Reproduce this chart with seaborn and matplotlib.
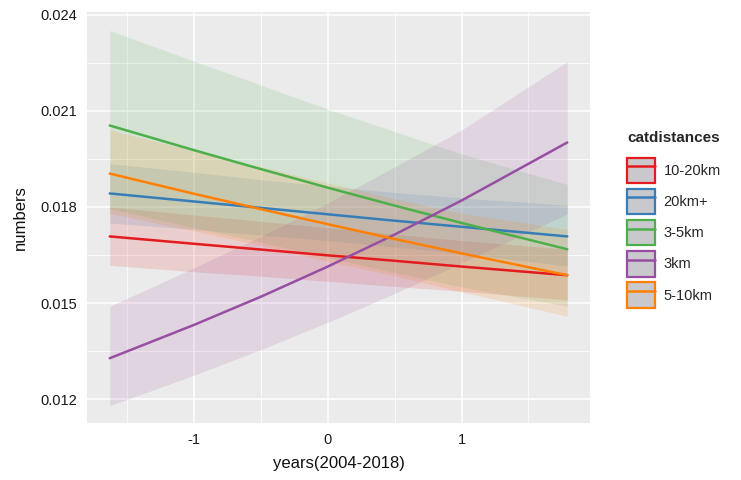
import numpy as np
import pandas as pd
import matplotlib
matplotlib.use("Agg")
import matplotlib.pyplot as plt
import seaborn as sns
from matplotlib.patches import Patch
from matplotlib.lines import Line2D
from matplotlib.legend_handler import HandlerTuple
from matplotlib.ticker import MultipleLocator

# values
categories = ["10-20km", "20km+", "3-5km", "3km", "5-10km"]
colors = ["#E41A1C", "#377EB8", "#4DAF4A", "#984EA3", "#FF7F00"]
years = [-1.63, -1.0, -0.5, 0.0, 0.5, 1.0, 1.79]

fit = {
    "10-20km": [0.01708, 0.01685, 0.01667, 0.01649, 0.01632, 0.01614, 0.01587],
    "20km+":   [0.01842, 0.01817, 0.01797, 0.01777, 0.01757, 0.01738, 0.01708],
    "3-5km":   [0.02054, 0.01977, 0.01918, 0.01860, 0.01804, 0.01750, 0.01668],
    "3km":     [0.01328, 0.01432, 0.01520, 0.01614, 0.01714, 0.01820, 0.02001],
    "5-10km":  [0.01904, 0.01841, 0.01793, 0.01746, 0.01700, 0.01655, 0.01587],
}
lower = {
    "10-20km": [0.01618, 0.01598, 0.01584, 0.01568, 0.01552, 0.01537, 0.01510],
    "20km+":   [0.01750, 0.01730, 0.01712, 0.01695, 0.01675, 0.01655, 0.01615],
    "3-5km":   [0.01795, 0.01735, 0.01690, 0.01642, 0.01595, 0.01550, 0.01490],
    "3km":     [0.01180, 0.01275, 0.01355, 0.01440, 0.01530, 0.01625, 0.01778],
    "5-10km":  [0.01780, 0.01725, 0.01680, 0.01630, 0.01585, 0.01535, 0.01459],
}
upper = {
    "10-20km": [0.01800, 0.01775, 0.01755, 0.01735, 0.01715, 0.01695, 0.01668],
    "20km+":   [0.01935, 0.01908, 0.01885, 0.01865, 0.01845, 0.01828, 0.01805],
    "3-5km":   [0.02350, 0.02255, 0.02180, 0.02105, 0.02035, 0.01965, 0.01870],
    "3km":     [0.01490, 0.01610, 0.01708, 0.01812, 0.01925, 0.02040, 0.02253],
    "5-10km":  [0.02040, 0.01975, 0.01925, 0.01875, 0.01825, 0.01780, 0.01730],
}

# long table: low / fit / high rows, median gives the line, 100% interval gives the band
rows = []
for cat in categories:
    for i, yr in enumerate(years):
        for v in (lower[cat][i], fit[cat][i], upper[cat][i]):
            rows.append({"years": yr, "numbers": v, "catdistances": cat})
df = pd.DataFrame(rows)

sns.set_theme(style="darkgrid")
plt.rcParams["font.family"] = ["Liberation Sans", "DejaVu Sans"]

fig = plt.figure(figsize=(7.41, 4.8), dpi=100)
ax = fig.add_axes([87/741, 1-423/480, (590-87)/741, (423-12)/480])
ax.set_facecolor("#EBEBEB")

sns.lineplot(data=df, x="years", y="numbers", hue="catdistances",
             hue_order=categories, palette=colors, estimator="median",
             errorbar=("pi", 100), err_kws={"alpha": 0.14, "linewidth": 0},
             linewidth=1.8, legend=False, ax=ax)

ax.set_xlim(-1.80, 1.96)
ax.set_ylim(0.01126, 0.02408)
ax.set_xticks([-1, 0, 1])
ax.set_xticklabels(["-1", "0", "1"])
ax.set_yticks([0.012, 0.015, 0.018, 0.021, 0.024])
ax.set_yticklabels(["0.012", "0.015", "0.018", "0.021", "0.024"])
ax.xaxis.set_minor_locator(MultipleLocator(0.5))
ax.yaxis.set_minor_locator(MultipleLocator(0.0015))
ax.grid(which="major", color="white", linewidth=1.1)
ax.grid(which="minor", color="white", linewidth=0.55)
ax.set_axisbelow(True)
for s in ax.spines.values():
    s.set_visible(False)
ax.tick_params(axis="both", which="major", length=4, width=1.1, color="#333333",
               labelsize=10.5, labelcolor="#1a1a1a", pad=3)
ax.tick_params(axis="both", which="minor", length=0)

ax.set_xlabel("years(2004-2018)", fontsize=12, color="#111111", labelpad=7)
ax.set_ylabel("numbers", fontsize=12, color="#111111", labelpad=9)

handles = []
for c in colors:
    box = Patch(facecolor="#C9C9CD", edgecolor=c, linewidth=1.6)
    ln = Line2D([], [], color=c, linewidth=1.8)
    handles.append((box, ln))
leg = fig.legend(handles, categories, title="catdistances",
                 loc="upper left", bbox_to_anchor=(627/741, 1-131/480),
                 frameon=False, fontsize=10.5, title_fontsize=11,
                 handlelength=1.9, handleheight=2.3, labelspacing=0.4,
                 handletextpad=0.6, borderaxespad=0, borderpad=0,
                 handler_map={tuple: HandlerTuple(ndivide=1)},
                 alignment="left")
leg.get_title().set_fontweight("bold")
leg._legend_box.sep = 9

fig.savefig("out.png", dpi=100)
